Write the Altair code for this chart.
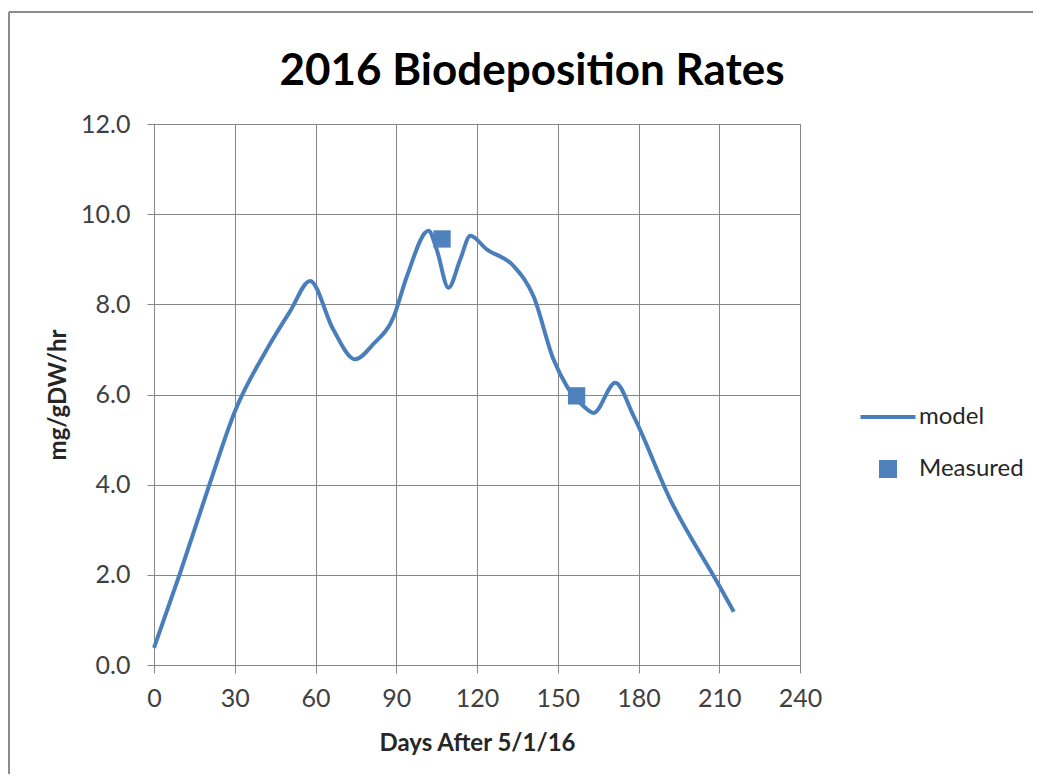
import altair as alt
import pandas as pd

# Model curve (days after 5/1/16, mg/gDW/hr)
model_days = [0, 9.7, 20.8, 30, 41.9, 50.6, 58, 66.6, 74.7, 81.5, 89, 94, 102, 105,
              109.4, 113.8, 117.5, 123.6, 133.6, 141, 148.4, 153.4, 159.6, 163.3,
              171.4, 178.2, 191.8, 209.8, 215.4]
model_rate = [0.38, 2.04, 4.04, 5.62, 7.0, 7.85, 8.52, 7.44, 6.78, 7.12, 7.72, 8.63, 9.63, 9.22,
              8.37, 9.0, 9.52, 9.22, 8.85, 8.18, 6.78, 6.18, 5.74, 5.59,
              6.26, 5.52, 3.67, 1.78, 1.18]

# Measured points
measured_days = [107, 157]
measured_rate = [9.45, 5.97]

series_names = ["model", "Measured"]
series_colors = ["#4A7EBB", "#4F81BD"]
x_ticks = [0, 30, 60, 90, 120, 150, 180, 210, 240]
y_ticks = [0, 2, 4, 6, 8, 10, 12]
chart_title = "2016 Biodeposition Rates"

model_df = pd.DataFrame({"day": model_days, "rate": model_rate, "series": "model"})
meas_df = pd.DataFrame({"day": measured_days, "rate": measured_rate, "series": "Measured"})

FONT = "Lato"

x_enc = alt.X("day:Q",
              scale=alt.Scale(domain=[0, 240], nice=False, zero=False),
              axis=alt.Axis(values=x_ticks, title="Days After 5/1/16", format="d"))
y_enc = alt.Y("rate:Q",
              scale=alt.Scale(domain=[0, 12], nice=False),
              axis=alt.Axis(values=y_ticks, title="mg/gDW/hr", format=".1f"))

color_scale = alt.Scale(domain=series_names, range=series_colors)
shape_scale = alt.Scale(domain=series_names,
                        range=["M-3.05,-0.22H3.05V0.22H-3.05Z", "square"])

line = alt.Chart(model_df).mark_line(interpolate="monotone", strokeWidth=4, color="#4A7EBB").encode(
    x=x_enc, y=y_enc,
    detail="series:N",
)

legend = alt.Legend(title=None, orient="none", legendX=722, legendY=281,
                    labelFont=FONT, labelFontSize=24, labelColor="#262626",
                    symbolSize=324, labelOffset=19, rowPadding=28, padding=0,
                    symbolStrokeWidth=0, symbolOpacity=1)

points = alt.Chart(meas_df).mark_point(filled=True, size=300, opacity=1, shape="square").encode(
    x="day:Q", y="rate:Q",
    color=alt.Color("series:N", scale=color_scale, legend=legend),
    shape=alt.Shape("series:N", scale=shape_scale, legend=legend),
)

frame_df = pd.DataFrame({"k": [0]})
border_left = alt.Chart(frame_df).mark_rule(stroke="#8C8C8C", strokeWidth=2).encode(
    x=alt.value(-145), y=alt.value(-112), y2=alt.value(650))
border_top = alt.Chart(frame_df).mark_rule(stroke="#8C8C8C", strokeWidth=2).encode(
    x=alt.value(-145), x2=alt.value(879), y=alt.value(-112))

title = alt.Chart(pd.DataFrame({"t": [chart_title]})).mark_text(
    font=FONT, fontSize=44, fontWeight="bold", color="#000000",
    align="center", baseline="alphabetic"
).encode(text="t:N", x=alt.value(378), y=alt.value(-39))

chart = alt.layer(border_left, border_top, title, line, points).properties(
    width=646, height=541,
    padding={"left": 146, "top": 116, "right": 234, "bottom": 109},
    autosize=alt.AutoSizeParams(type="none"),
).configure_view(stroke="#868686", strokeWidth=1).configure_axis(
    gridColor="#868686", gridWidth=1, domainColor="#868686", tickColor="#868686",
    labelFont=FONT, labelFontSize=25, labelColor="#404040",
    titleFont=FONT, titleFontSize=24, titleFontWeight="bold", titleColor="#262626",
).configure_axisX(
    tickSize=8, labelPadding=13, titlePadding=20, labelFlush=False,
).configure_axisY(
    tickSize=7, labelPadding=17, titlePadding=10,
)

chart.save("out.html", embed_options={"renderer": "svg", "actions": False})
